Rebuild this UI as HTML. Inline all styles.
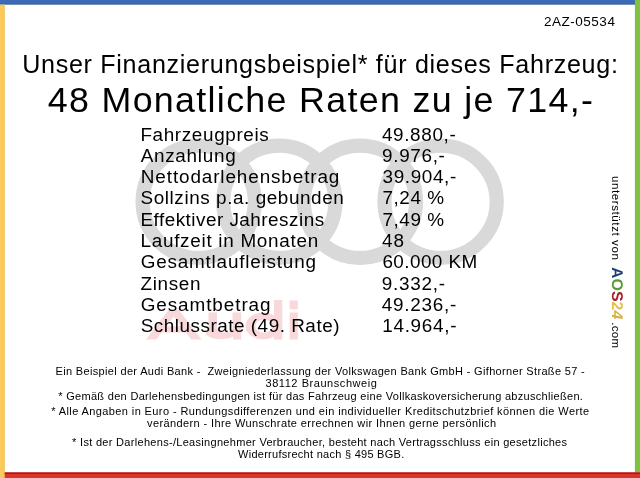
<!DOCTYPE html>
<html lang="de">
<head>
<meta charset="utf-8">
<title>Finanzierungsbeispiel</title>
<style>
html,body{margin:0;padding:0;}
body{width:640px;height:478px;overflow:hidden;background:#fff;position:relative;font-family:"Liberation Sans",sans-serif;color:#000;}
.bg{position:absolute;left:0;top:0;width:640px;height:478px;}
.t{position:absolute;white-space:nowrap;line-height:1;margin:0;transform-origin:0 50%;}
.code{font-size:13.5px;}
.h1{font-size:25.1px;}
.h2{font-size:35.8px;}
.row{font-size:18.9px;}
.foot{font-size:11.0px;}

</style>
</head>
<body>
<svg class="bg" width="640" height="478" viewBox="0 0 640 478">
<defs>
<linearGradient id="gb" x1="0" y1="0" x2="0" y2="1"><stop offset="0" stop-color="#3f69b9"/><stop offset="0.55" stop-color="#3c69b6"/><stop offset="0.75" stop-color="#3666a4"/><stop offset="1" stop-color="#3a639c"/></linearGradient>
</defs>
<g fill="none" stroke="#d9d9d9" stroke-width="14.2">
<circle cx="198.7" cy="201.8" r="56.1"/><circle cx="279.33" cy="201.8" r="56.1"/><circle cx="359.96" cy="201.8" r="56.1"/><circle cx="440.59" cy="201.8" r="56.1"/>
</g>
<g fill="#f8d8da">
<path d="M146 339.4 L168.5 310 L179 310 L201.5 339.4 L191.3 339.4 L186 332.5 L161.5 332.5 L156.3 339.4 Z M166.2 326.3 L181.4 326.3 L173.8 316.4 Z"/>
<path d="M208.5 312.6 H217 V327 A7.8 5.2 0 0 0 232.6 327 V312.6 H241.2 V339.4 H233 V336.5 A14 6 0 0 1 208.5 329 Z"/>
<path d="M274 300 H282.3 V339.4 H274 V336.6 A17.7 13.4 0 1 1 274 315.4 Z M272 326 A8.4 6.6 0 1 0 255.2 326 A8.4 6.6 0 1 0 272 326 Z" fill-rule="evenodd"/>
<path d="M289.6 312.6 H297.8 V339.4 H289.6 Z M289.6 300.6 H297.8 V309.3 H289.6 Z"/>
</g>
<rect x="0" y="0" width="635" height="4.7" fill="url(#gb)"/>
<rect x="635" y="0" width="5" height="472.6" fill="#80c342"/>
<rect x="634.9" y="0" width="1" height="472.6" fill="#84b560"/>
<rect x="0" y="4.7" width="4.7" height="473.3" fill="#fbca5a"/>
<rect x="3.5" y="4.7" width="1.2" height="473.3" fill="#eec668"/>
<rect x="4.7" y="472.3" width="635.3" height="5.7" fill="#d9362a"/>
<rect x="4.7" y="472.6" width="635.3" height="1.3" fill="#a41414"/>
</svg>
<div id="txt" style="position:absolute;left:0;top:0;width:640px;height:478px;will-change:transform;">
<div id="code" class="t code" style="left:544.02px;top:14.57px;letter-spacing:0.510px;">2AZ-05534</div>
<div id="h1" class="t h1" style="left:22.21px;top:51.75px;letter-spacing:0.699px;">Unser Finanzierungsbeispiel* für dieses Fahrzeug:</div>
<div id="h2" class="t h2" style="left:47.78px;top:82.70px;letter-spacing:1.322px;">48 Monatliche Raten zu je 714,-</div>
<div id="a0" class="t row" style="left:140.43px;top:125.60px;letter-spacing:0.631px;">Fahrzeugpreis</div>
<div id="b0" class="t row" style="left:381.88px;top:125.60px;letter-spacing:0.660px;">49.880,-</div>
<div id="a1" class="t row" style="left:140.65px;top:146.89px;letter-spacing:0.715px;">Anzahlung</div>
<div id="b1" class="t row" style="left:382.06px;top:146.89px;letter-spacing:0.676px;">9.976,-</div>
<div id="a2" class="t row" style="left:140.84px;top:167.68px;letter-spacing:0.886px;">Nettodarlehensbetrag</div>
<div id="b2" class="t row" style="left:382.51px;top:167.68px;letter-spacing:0.638px;">39.904,-</div>
<div id="a3" class="t row" style="left:140.58px;top:188.97px;letter-spacing:0.572px;">Sollzins p.a. gebunden</div>
<div id="b3" class="t row" style="left:382.47px;top:188.97px;letter-spacing:0.557px;">7,24 %</div>
<div id="a4" class="t row" style="left:140.44px;top:210.76px;letter-spacing:0.486px;">Effektiver Jahreszins</div>
<div id="b4" class="t row" style="left:382.47px;top:210.76px;letter-spacing:0.557px;">7,49 %</div>
<div id="a5" class="t row" style="left:140.50px;top:231.55px;letter-spacing:0.713px;">Laufzeit in Monaten</div>
<div id="b5" class="t row" style="left:381.92px;top:231.55px;letter-spacing:1.208px;">48</div>
<div id="a6" class="t row" style="left:140.67px;top:252.84px;letter-spacing:0.800px;">Gesamtlaufleistung</div>
<div id="b6" class="t row" style="left:382.41px;top:252.84px;letter-spacing:0.432px;">60.000 KM</div>
<div id="a7" class="t row" style="left:140.51px;top:274.63px;letter-spacing:0.649px;">Zinsen</div>
<div id="b7" class="t row" style="left:381.86px;top:274.63px;letter-spacing:0.726px;">9.332,-</div>
<div id="a8" class="t row" style="left:140.67px;top:295.92px;letter-spacing:0.928px;">Gesamtbetrag</div>
<div id="b8" class="t row" style="left:381.87px;top:295.92px;letter-spacing:0.722px;">49.236,-</div>
<div id="a9" class="t row" style="left:140.64px;top:316.71px;letter-spacing:0.520px;">Schlussrate (49. Rate)</div>
<div id="b9" class="t row" style="left:382.26px;top:316.71px;letter-spacing:0.697px;">14.964,-</div>
<div id="f1" class="t foot" style="left:55.58px;top:365.69px;letter-spacing:0.334px;">Ein Beispiel der Audi Bank -&nbsp; Zweigniederlassung der Volkswagen Bank GmbH - Gifhorner Straße 57 -</div>
<div id="f2" class="t foot" style="left:265.49px;top:377.69px;letter-spacing:0.557px;">38112 Braunschweig</div>
<div id="f3" class="t foot" style="left:58.24px;top:390.69px;letter-spacing:0.306px;">* Gemäß den Darlehensbedingungen ist für das Fahrzeug eine Vollkaskoversicherung abzuschließen.</div>
<div id="f4" class="t foot" style="left:51.19px;top:405.69px;letter-spacing:0.399px;">* Alle Angaben in Euro - Rundungsdifferenzen und ein individueller Kreditschutzbrief können die Werte</div>
<div id="f5" class="t foot" style="left:147.04px;top:417.69px;letter-spacing:0.390px;">verändern - Ihre Wunschrate errechnen wir Ihnen gerne persönlich</div>
<div id="f6" class="t foot" style="left:72.12px;top:436.69px;letter-spacing:0.302px;">* Ist der Darlehens-/Leasingnehmer Verbraucher, besteht nach Vertragsschluss ein gesetzliches</div>
<div id="f7" class="t foot" style="left:238.04px;top:448.69px;letter-spacing:0.270px;">Widerrufsrecht nach § 495 BGB.</div>
<div id="vert" class="t" style="left:622.6px;top:176px;transform-origin:0 0;transform:rotate(90deg);font-size:11.5px;line-height:14px;height:14px;"><span id="v1" style="display:inline-block;transform-origin:0 50%;transform:scaleX(1.0);letter-spacing:0.6px;">unterstützt von</span><span id="v2" style="position:absolute;left:91.0px;top:0.2px;font-weight:bold;font-size:15.5px;letter-spacing:0px;text-rendering:geometricPrecision;transform-origin:0 50%;transform:scale(1.03,1.0);"><span style="color:#1c3f73">A</span><span style="color:#5b9b35">O</span><span style="color:#a81e25">S</span><span style="color:#e6bf45">2</span><span style="color:#d9b04a;font-style:italic">4</span></span><span id="v3" style="position:absolute;left:146.3px;top:0px;transform-origin:0 50%;transform:scaleX(1.0);letter-spacing:0.27px;">.com</span></div>
</div>
</body>
</html>
